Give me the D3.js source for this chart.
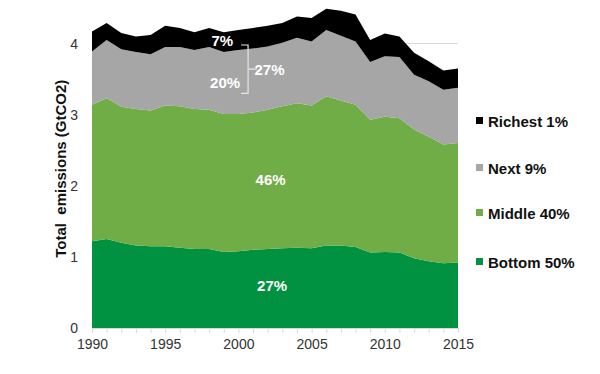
<!DOCTYPE html>
<html>
<head>
<meta charset="utf-8">
<script src="https://cdn.jsdelivr.net/npm/d3@7"></script>
<style>
  body { margin: 0; background: #fff; }
  svg { font-family: "Liberation Sans", Arial, sans-serif; }
</style>
</head>
<body>
<div id="chart-area"></div>
<script>
const years = d3.range(1990, 2016)
const bottom50 = [1.22, 1.25, 1.20, 1.16, 1.15, 1.15, 1.13, 1.11, 1.11, 1.07, 1.08, 1.10, 1.11,
  1.12, 1.13, 1.12, 1.16, 1.16, 1.14, 1.06, 1.07, 1.06, 0.98, 0.94, 0.91, 0.92]
const middle40 = [1.92, 1.98, 1.91, 1.92, 1.91, 1.98, 1.99, 1.97, 1.96, 1.94, 1.93, 1.93, 1.96,
  2.00, 2.03, 2.01, 2.10, 2.04, 2.00, 1.87, 1.90, 1.89, 1.81, 1.75, 1.67, 1.68]
const next9 = [0.75, 0.82, 0.81, 0.80, 0.79, 0.82, 0.83, 0.83, 0.88, 0.87, 0.90, 0.90, 0.89,
  0.89, 0.92, 0.90, 0.93, 0.91, 0.89, 0.81, 0.85, 0.86, 0.77, 0.78, 0.77, 0.78]
const richest1 = [0.28, 0.24, 0.23, 0.22, 0.27, 0.30, 0.27, 0.25, 0.27, 0.28, 0.28, 0.29, 0.29,
  0.28, 0.30, 0.33, 0.30, 0.35, 0.38, 0.31, 0.32, 0.29, 0.31, 0.28, 0.27, 0.27]
const seriesNames = ['Bottom 50%', 'Middle 40%', 'Next 9%', 'Richest 1%']
const colors = ['#009240', '#70ad47', '#a6a6a6', '#000000']
const yTicks = [0, 1, 2, 3, 4]
const xTicks = [1990, 1995, 2000, 2005, 2010, 2015]

const W = 600, H = 374
const margin = {top: 8, left: 92, right: 142, bottom: 46}
const width = W - margin.left - margin.right
const height = H - margin.top - margin.bottom

const svg = d3.select('#chart-area')
  .append('svg')
    .attr('width', W)
    .attr('height', H)

const g = svg.append('g')
  .attr('transform', `translate(${margin.left},${margin.top})`)

const x = d3.scaleLinear().domain([1990, 2015]).range([0, width])
const y = d3.scaleLinear().domain([0, 4.5]).range([height, 0])

const table = years.map((yr, i) => ({
  year: yr,
  s0: bottom50[i], s1: middle40[i], s2: next9[i], s3: richest1[i]
}))
const stack = d3.stack().keys(['s0', 's1', 's2', 's3'])(table)

// gridline at 4 (others hidden under the areas)
g.selectAll('.grid')
  .data(yTicks.filter(d => d > 0))
  .enter().append('line')
    .attr('x1', 0).attr('x2', width)
    .attr('y1', d => y(d)).attr('y2', d => y(d))
    .attr('stroke', '#d9d9d9')

const area = d3.area()
  .x(d => x(d.data.year))
  .y0(d => y(d[0]))
  .y1(d => y(d[1]))

g.selectAll('.layer')
  .data(stack)
  .enter().append('path')
    .attr('d', area)
    .attr('fill', (d, i) => colors[i])

// x axis
const xAxis = g.append('g')
  .attr('transform', `translate(0,${height})`)
  .call(d3.axisBottom(x).tickValues(years).tickSize(5).tickFormat(d => xTicks.includes(d) ? d : ''))
xAxis.select('.domain').attr('stroke', '#d9d9d9')
xAxis.selectAll('.tick line').attr('stroke', '#d9d9d9')
xAxis.selectAll('.tick text')
  .attr('font-size', 14).attr('fill', '#333').attr('dy', '0.9em')
  .attr('font-family', '"Liberation Sans", Arial, sans-serif')

// y axis
const yAxis = g.append('g')
  .call(d3.axisLeft(y).tickValues(yTicks).tickFormat(d3.format('d')).tickSize(0).tickPadding(14))
yAxis.select('.domain').remove()
yAxis.selectAll('.tick text')
  .attr('font-size', 14).attr('fill', '#333')
  .attr('font-family', '"Liberation Sans", Arial, sans-serif')

svg.append('text')
  .attr('transform', `translate(60,${y(2.24) + margin.top}) rotate(-90)`)
  .attr('text-anchor', 'middle')
  .attr('dominant-baseline', 'central')
  .attr('font-size', 15)
  .attr('font-weight', 'bold')
  .attr('fill', '#111')
  .style('white-space', 'pre')
  .text('Total  emissions (GtCO2)')

// share labels
const lab = (tx, ty, t, anchor) => g.append('text')
  .attr('x', tx).attr('y', ty)
  .attr('text-anchor', anchor || 'middle')
  .attr('dominant-baseline', 'central')
  .attr('font-size', 15).attr('font-weight', 'bold')
  .attr('fill', '#fff')
  .text(t)

lab(x(1999.5) + 2, y(4.03) - 1, '7%', 'end')
lab(x(1999.5) + 9, y(3.45), '20%', 'end')
lab(x(2001.1), y(3.64), '27%', 'start')
lab(x(2002.2), y(2.09), '46%')
lab(x(2002.3), y(0.6), '27%')

const bx = x(1999.5) + 17
g.append('path')
  .attr('d', `M${bx - 7},${y(3.98)}H${bx}V${y(3.3)}H${bx - 7}M${bx},${y(3.64)}H${bx + 9}`)
  .attr('fill', 'none')
  .attr('stroke', '#e6e6e6')
  .attr('stroke-width', 1.2)

// legend
const legendY = [262, 213, 168, 121]
const legend = svg.selectAll('.legend')
  .data(seriesNames)
  .enter().append('g')
    .attr('transform', (d, i) => `translate(476,${legendY[i]})`)
legend.append('rect')
  .attr('x', 0).attr('y', -4)
  .attr('width', 7).attr('height', 7)
  .attr('fill', (d, i) => colors[i])
legend.append('text')
  .attr('x', 12)
  .attr('dominant-baseline', 'central')
  .attr('font-size', 15)
  .attr('font-weight', 'bold')
  .attr('fill', '#111')
  .text(d => d)
</script>
</body>
</html>
